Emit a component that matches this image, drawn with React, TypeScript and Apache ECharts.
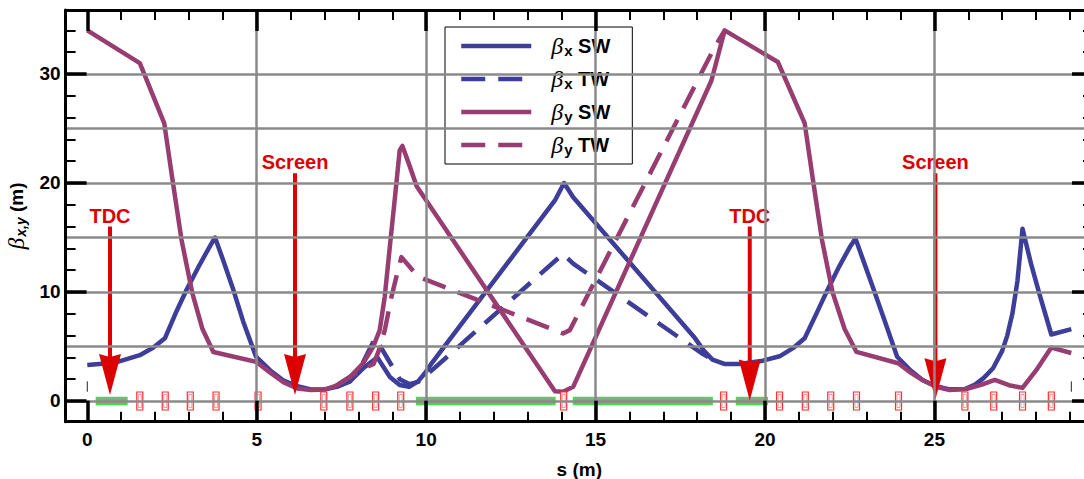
import React, { useEffect, useRef } from "react";
import * as echarts from "echarts";

// ---- data (s in m, beta in m) ----
const bxSW: number[][] = [
  [0, 3.3], [0.8, 3.5], [1.55, 4.2], [1.95, 4.9], [2.29, 5.75], [2.6, 8.0], [2.93, 10.2], [3.3, 12.4],
  [3.6, 14.1], [3.77, 15.0], [4.0, 13.0], [4.31, 10.2], [4.6, 7.3], [4.98, 4.06], [5.4, 2.8], [5.78, 1.9],
  [6.2, 1.35], [6.6, 1.05], [7.0, 1.05], [7.35, 1.3], [7.75, 1.8], [8.14, 3.0], [8.56, 4.0], [8.93, 2.2],
  [9.22, 1.47], [9.5, 1.3], [9.76, 1.8], [9.95, 2.5], [10.15, 3.4], [13.8, 18.4], [14.07, 20.0], [14.34, 18.7],
  [17.9, 5.9], [18.2, 4.6], [18.45, 3.8], [18.8, 3.4], [19.25, 3.4], [19.94, 3.7], [20.43, 4.1], [20.85, 4.9],
  [21.17, 5.75], [21.5, 7.9], [21.8, 9.9], [22.2, 12.4], [22.5, 14.1], [22.67, 14.9], [22.9, 12.9], [23.21, 10.2],
  [23.55, 7.2], [23.9, 4.06], [24.3, 2.8], [24.66, 1.9], [25.05, 1.35], [25.45, 1.07], [25.9, 1.1], [26.2, 1.5],
  [26.45, 2.1], [26.73, 3.0], [27.0, 4.6], [27.15, 6.0], [27.3, 8.0], [27.45, 11.0], [27.6, 15.8], [27.85, 12.6],
  [28.1, 9.8], [28.45, 6.1], [29.04, 6.6],
];
const bxTW: number[][] = [
  [7.35, 1.3], [7.75, 1.8], [8.1, 3.3], [8.5, 5.8], [8.83, 4.06], [9.03, 3.0], [9.22, 2.0], [9.5, 1.55],
  [9.76, 1.75], [10.2, 2.9], [14.04, 13.5], [14.34, 12.6], [18.12, 4.4], [18.45, 3.8],
];
const bySW: number[][] = [
  [0, 34.0], [1.55, 31.0], [2.27, 25.5], [2.5, 20.6], [2.78, 14.8], [3.1, 9.9], [3.4, 6.6], [3.72, 4.5],
  [4.98, 3.6], [5.4, 2.6], [5.8, 1.7], [6.2, 1.15], [6.6, 1.0], [7.0, 1.05], [7.35, 1.4], [7.75, 2.2],
  [8.14, 3.46], [8.44, 5.0], [8.63, 6.5], [8.78, 9.6], [8.93, 14.2], [9.08, 18.7], [9.22, 23.0], [9.3, 23.4],
  [9.52, 21.5], [9.72, 19.7], [13.8, 0.9], [14.04, 0.85], [14.34, 1.3], [18.42, 29.4], [18.81, 34.0],
  [20.38, 31.1], [21.17, 25.5], [21.4, 20.6], [21.68, 14.8], [22.0, 9.9], [22.35, 6.6], [22.7, 4.5],
  [23.93, 3.46], [24.3, 2.6], [24.66, 1.9], [25.05, 1.3], [25.45, 1.0], [25.94, 1.1], [26.4, 1.5],
  [26.78, 1.93], [27.2, 1.45], [27.6, 1.2], [28.0, 2.8], [28.45, 4.9], [29.04, 4.4],
];
const byTW: number[][] = [
  [7.35, 1.4], [7.75, 2.2], [8.1, 2.9], [8.45, 3.4], [8.6, 4.6], [8.78, 6.5], [8.98, 9.6], [9.17, 12.0],
  [9.27, 13.2], [9.52, 12.3], [9.76, 11.4], [10.1, 11.0], [14.04, 6.2], [14.24, 6.5], [18.52, 32.5], [18.81, 34.0],
];

const seriesNames = ["βx SW", "βx TW", "βy SW", "βy TW"];

const arrowS = [0.67, 6.13, 19.55, 25.03];
const arrowTop = [16.0, 20.9, 16.0, 20.9];
const arrowTip = [0.55, 0.55, 0.05, 0.15];
const arrowLabels = ["TDC", "Screen", "TDC", "Screen"];

const magnetS = [1.55, 2.3, 3.04, 3.8, 5.04, 6.98, 7.75, 8.51, 9.25, 14.06, 18.78, 20.43, 21.19, 21.94, 22.7, 23.94, 25.9, 26.75, 27.6, 28.45];
const cavityStart = [0.27, 9.72, 14.35, 19.16];
const cavityEnd = [1.17, 13.8, 18.44, 20.07];
const beamlineEnds = [0, 29.04];

const xMajor = [0, 5, 10, 15, 20, 25];
const xMinor = [1, 2, 3, 4, 6, 7, 8, 9, 11, 12, 13, 14, 16, 17, 18, 19, 21, 22, 23, 24, 26, 27, 28, 29];
const yMajor = [0, 10, 20, 30];
const yMinor = [2, 4, 6, 8, 12, 14, 16, 18, 22, 24, 26, 28, 32, 34];
const gridX = [5, 10, 15, 20, 25];
const gridY = [0, 5, 10, 15, 20, 25, 30];

const X_MIN = -0.64, X_MAX = 29.68, Y_MIN = -1.9, Y_MAX = 35.87;

const BLUE = "#3d3d9a";
const PURPLE = "#983d72";
const RED = "#dd0000";
const FONT = "Liberation Sans";
const LW = 4.5;

function xAxisDef(position: "top" | "bottom", major: boolean) {
  return {
    type: "value", position, min: X_MIN, max: X_MAX, z: 6,
    axisLine: { show: major, onZero: false, lineStyle: { color: "#000", width: 3 } },
    axisTick: {
      show: true, inside: true, length: major ? 21 : 10,
      customValues: major ? xMajor : xMinor,
      lineStyle: { color: "#000", width: major ? 3.5 : 2 },
    },
    axisLabel: major && position === "bottom"
      ? { show: true, customValues: xMajor, margin: 8, color: "#000", fontSize: 19, fontWeight: "bold", fontFamily: FONT }
      : { show: false },
    splitLine: { show: false },
    ...(major && position === "bottom"
      ? {
          name: "s (m)", nameLocation: "middle", nameGap: 38,
          nameTextStyle: { color: "#000", fontSize: 19, fontWeight: "bold", fontFamily: FONT },
        }
      : {}),
  };
}

function yAxisDef(position: "left" | "right", major: boolean) {
  return {
    type: "value", position, min: Y_MIN, max: Y_MAX, z: 6,
    axisLine: { show: major, onZero: false, lineStyle: { color: "#000", width: 3 } },
    axisTick: {
      show: true, inside: true, length: major ? 21 : 10,
      customValues: major ? yMajor : yMinor,
      lineStyle: { color: "#000", width: major ? 3.5 : 2 },
    },
    axisLabel: major && position === "left"
      ? { show: true, customValues: yMajor, margin: 5, color: "#000", fontSize: 19, fontWeight: "bold", fontFamily: FONT }
      : { show: false },
    splitLine: { show: false },
    ...(major && position === "left"
      ? {
          name: "{b|β}{s|x,y} {n|(m)}", nameLocation: "middle", nameGap: 38,
          nameTextStyle: {
            color: "#000", fontSize: 19, fontWeight: "bold", fontFamily: FONT,
            rich: {
              b: { fontFamily: "Liberation Serif", fontStyle: "italic", fontWeight: "normal", fontSize: 23, color: "#000" },
              s: { fontFamily: FONT, fontStyle: "italic", fontWeight: "bold", fontSize: 14, color: "#000", padding: [9, 0, 0, 1] },
              n: { fontFamily: FONT, fontWeight: "bold", fontSize: 19, color: "#000" },
            },
          },
        }
      : {}),
  };
}

function curve(name: string, data: number[][], color: string, dashed: boolean, z: number) {
  return {
    name, type: "line", data, xAxisIndex: 0, yAxisIndex: 0, z,
    symbol: "none", showSymbol: false, smooth: false,
    lineStyle: { color, width: LW, type: dashed ? [24, 13] : "solid", join: "round" },
    itemStyle: { color },
    emphasis: { disabled: true },
  };
}

export default function App() {
  const ref = useRef<HTMLDivElement>(null);
  useEffect(() => {
    if (!ref.current) return;
    const chart = echarts.init(ref.current, undefined, { renderer: "svg" });
    const option: any = {
      animation: false,
      backgroundColor: "#fff",
      grid: { left: 65.6, right: -9, top: 10, bottom: 57.3, containLabel: false, outerBoundsMode: "none" },
      xAxis: [xAxisDef("bottom", true), xAxisDef("bottom", false), xAxisDef("top", true), xAxisDef("top", false)],
      yAxis: [yAxisDef("left", true), yAxisDef("left", false), yAxisDef("right", true), yAxisDef("right", false)],
      legend: {
        data: seriesNames,
        orient: "vertical",
        left: 445, top: 27,
        padding: [7, 22, 7, 14],
        itemGap: 9,
        itemWidth: 70, itemHeight: 14,
        backgroundColor: "#fff",
        borderColor: "#000", borderWidth: 1,
        selectedMode: false,
        itemStyle: { opacity: 0 },
        lineStyle: { width: LW },
        formatter: (name: string) => {
          const sub = name.charAt(1);
          const rest = name.slice(3);
          return `{b|β}{s|${sub}}{t| ${rest}}`;
        },
        textStyle: {
          color: "#000", fontSize: 20, fontWeight: "bold", fontFamily: FONT, padding: [0, 0, 0, 15],
          rich: {
            b: { fontFamily: "Liberation Serif", fontStyle: "italic", fontWeight: "normal", fontSize: 24, color: "#000" },
            s: { fontFamily: FONT, fontWeight: "bold", fontSize: 15, color: "#000", padding: [9, 0, 0, 1] },
            t: { fontFamily: FONT, fontWeight: "bold", fontSize: 20, color: "#000" },
          },
        },
      },
      series: [
        {
          name: "grid", type: "line", data: [], z: 1, silent: true,
          markLine: {
            silent: true, symbol: "none", label: { show: false },
            lineStyle: { color: "#8a8a8a", width: 2.5, type: "solid" },
            emphasis: { disabled: true },
            data: [...gridX.map((v) => ({ xAxis: v })), ...gridY.map((v) => ({ yAxis: v }))],
          },
        },
        curve(seriesNames[0], bxSW, BLUE, false, 2),
        curve(seriesNames[1], bxTW, BLUE, true, 2),
        curve(seriesNames[2], bySW, PURPLE, false, 2),
        curve(seriesNames[3], byTW, PURPLE, true, 2),
        {
          name: "cavities", type: "custom", z: 3, silent: true,
          data: cavityStart.map((s, i) => [s, cavityEnd[i]]),
          encode: { x: [0, 1] },
          renderItem: (params: any, api: any) => {
            const p1 = api.coord([api.value(0), 0]);
            const p2 = api.coord([api.value(1), 0]);
            return {
              type: "rect",
              shape: { x: p1[0], y: p1[1] - 3.5, width: p2[0] - p1[0], height: 7 },
              style: { fill: "#9a9a9a", stroke: "#3ae83a", lineWidth: 1.5 },
            };
          },
        },
        {
          name: "magnets", type: "custom", z: 3, silent: true,
          data: magnetS.map((s) => [s, 0]),
          renderItem: (params: any, api: any) => {
            const p = api.coord([api.value(0), api.value(1)]);
            return {
              type: "group",
              children: [
                { type: "rect", shape: { x: p[0] - 3, y: p[1] - 9, width: 6, height: 18 }, style: { fill: "#fff", stroke: "#ff3030", lineWidth: 1.2 } },
                { type: "rect", shape: { x: p[0] - 1.5, y: p[1] - 6.5, width: 3, height: 13 }, style: { fill: "#fff", stroke: "#ff8080", lineWidth: 0.8 } },
              ],
            };
          },
        },
        {
          name: "ends", type: "custom", z: 3, silent: true,
          data: beamlineEnds.map((s) => [s]),
          renderItem: (params: any, api: any) => {
            const a = api.coord([api.value(0), 0.85]);
            const b = api.coord([api.value(0), 1.8]);
            return { type: "line", shape: { x1: a[0], y1: a[1], x2: b[0], y2: b[1] }, style: { stroke: "#222", lineWidth: 1 } };
          },
        },
        {
          name: "arrows", type: "custom", z: 4, silent: true,
          data: arrowS.map((s, i) => [s, arrowTop[i], arrowTip[i], i]),
          encode: { x: 0, y: [1, 2] },
          renderItem: (params: any, api: any) => {
            const s = api.value(0);
            const i = api.value(3);
            const pTop = api.coord([s, api.value(1)]);
            const pTip = api.coord([s, api.value(2)]);
            const headH = 41, headW = 11, notch = 3;
            const x = pTip[0];
            return {
              type: "group",
              children: [
                { type: "line", shape: { x1: pTop[0], y1: pTop[1], x2: x, y2: pTip[1] - headH + notch + 2 }, style: { stroke: RED, lineWidth: 4 } },
                {
                  type: "polygon",
                  shape: { points: [[x, pTip[1]], [x + headW, pTip[1] - headH], [x, pTip[1] - headH + notch], [x - headW, pTip[1] - headH]] },
                  style: { fill: RED },
                },
                {
                  type: "text", x: pTop[0], y: pTop[1] - 11,
                  style: { text: arrowLabels[i], fill: RED, fontSize: 20, fontWeight: "bold", fontFamily: FONT, align: "center", verticalAlign: "middle" },
                },
              ],
            };
          },
        },
      ],
    };
    chart.setOption(option);
    return () => chart.dispose();
  }, []);
  return <div ref={ref} style={{ position: "absolute", left: 0, top: 0, width: 1084, height: 479 }} />;
}
